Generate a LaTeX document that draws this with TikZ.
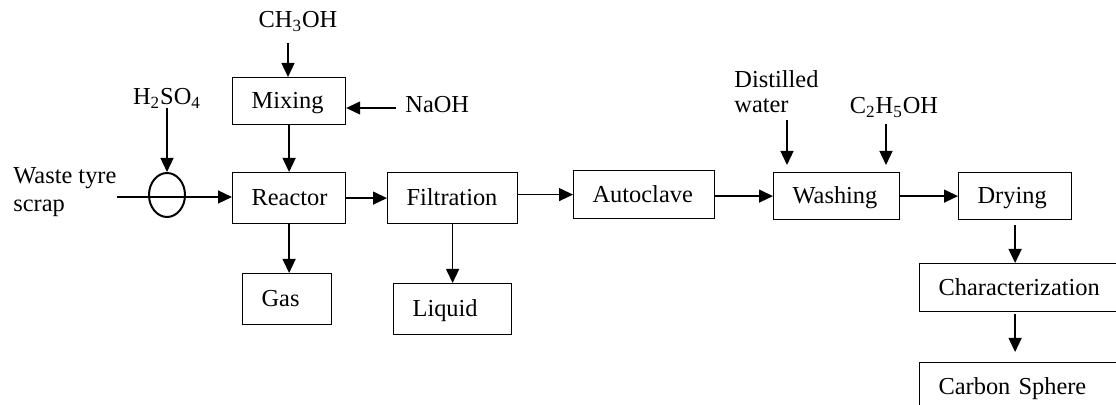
\documentclass[tikz,border=0pt]{standalone}
\usepackage{fontspec}
\setmainfont{Liberation Serif}
\usetikzlibrary{arrows.meta,shapes.geometric}

\tikzset{
  box/.style={draw, line width=0.6pt, anchor=north west, align=left, inner xsep=9.5pt, inner ysep=0pt, text height=7.9pt, text depth=0pt},
  lbl/.style={inner sep=0pt, anchor=base},
  arr/.style={-{Triangle[length=7pt,width=6.5pt]}, line width=0.65pt},
}

\begin{document}
\begin{tikzpicture}[x=0.5pt, y=-0.5pt, font=\fontsize{12.2}{14}\selectfont]
  \useasboundingbox (0,0) rectangle (1116,405);
  \clip (0,0) rectangle (1116,405);

  % process boxes, placed by their top left corner
  \node[box, text width=37.5pt, minimum height=23.5pt] (mix) at (232,77) {Mixing};
  \node[box, text width=37.5pt, minimum height=25.5pt] (reactor) at (232,172) {Reactor};
  \node[box, text width=46pt, minimum height=25.5pt] (filt) at (387,172) {Filtration};
  \node[box, text width=25.5pt, minimum height=25.5pt] (gas) at (242,273) {Gas};
  \node[box, text width=40pt, minimum height=25.5pt] (liquid) at (393,283) {Liquid};
  \node[box, text width=51.5pt, minimum height=24pt] (auto) at (573,170) {Autoclave};
  \node[box, text width=44pt, minimum height=23.5pt] (wash) at (773,172) {Washing};
  \node[box, text width=37.5pt, minimum height=23.5pt] (dry) at (958,172) {Drying};
  \node[box, text width=84pt, minimum height=24pt] (char) at (919,263) {Characterization};
  \node[box, text width=84pt, minimum height=24pt] (carbon) at (919,362) {Carbon Sphere};

  % feed stream and acid dosing
  \node[draw, ellipse, line width=1pt, minimum width=18pt, minimum height=22pt, inner sep=0pt] (sep) at (167,195) {};
  \node[lbl, anchor=north west, align=left] (feedlbl) at (13,167) {Waste tyre\\scrap};
  \node[lbl] (h2so4) at (167,105) {H\textsubscript{2}SO\textsubscript{4}};
  \node[lbl] (ch3oh) at (298,28) {CH\textsubscript{3}OH};
  \node[lbl, anchor=base west] (naoh) at (405,113) {NaOH};
  \node[lbl, anchor=north west, align=left, font=\fontsize{12.2}{12.5}\selectfont] (water) at (734,70) {Distilled\\water};
  \node[lbl] (c2h5oh) at (894,114) {C\textsubscript{2}H\textsubscript{5}OH};

  \coordinate (feed) at (117,197);
  \coordinate (acid) at (167,108);
  \coordinate (meoh) at (288,43);
  \coordinate (naohin) at (396,108);
  \coordinate (dwin) at (787,120);
  \coordinate (etin) at (886,124);

  \draw[arr] (feed) -- (feed -| reactor.west);
  \draw[arr] (acid) -- (sep.north);
  \draw[arr] (meoh) -- (meoh |- mix.north);
  \draw[arr] (naohin) -- (naohin -| mix.east);
  \draw[arr] (mix) -- (reactor);
  \draw[arr] (reactor) -- (filt);
  \draw[arr] (reactor.south) -- (reactor.south |- gas.north);
  \draw[arr] (filt.south) -- (filt.south |- liquid.north);
  \draw[arr] (filt.east |- auto.west) -- (auto.west);
  \draw[arr] (auto.east |- wash.west) -- (wash.west);
  \draw[arr] (wash) -- (dry);
  \draw[arr, shorten >=3.5pt] (dwin) -- (dwin |- wash.north);
  \draw[arr, shorten >=3.5pt] (etin) -- (etin |- wash.north);
  \draw[arr, shorten <=2.5pt] (dry.south) -- (dry.south |- char.north);
  \draw[arr, shorten <=1pt, shorten >=5pt] (dry.south |- char.south) -- (dry.south |- carbon.north);
\end{tikzpicture}
\end{document}
